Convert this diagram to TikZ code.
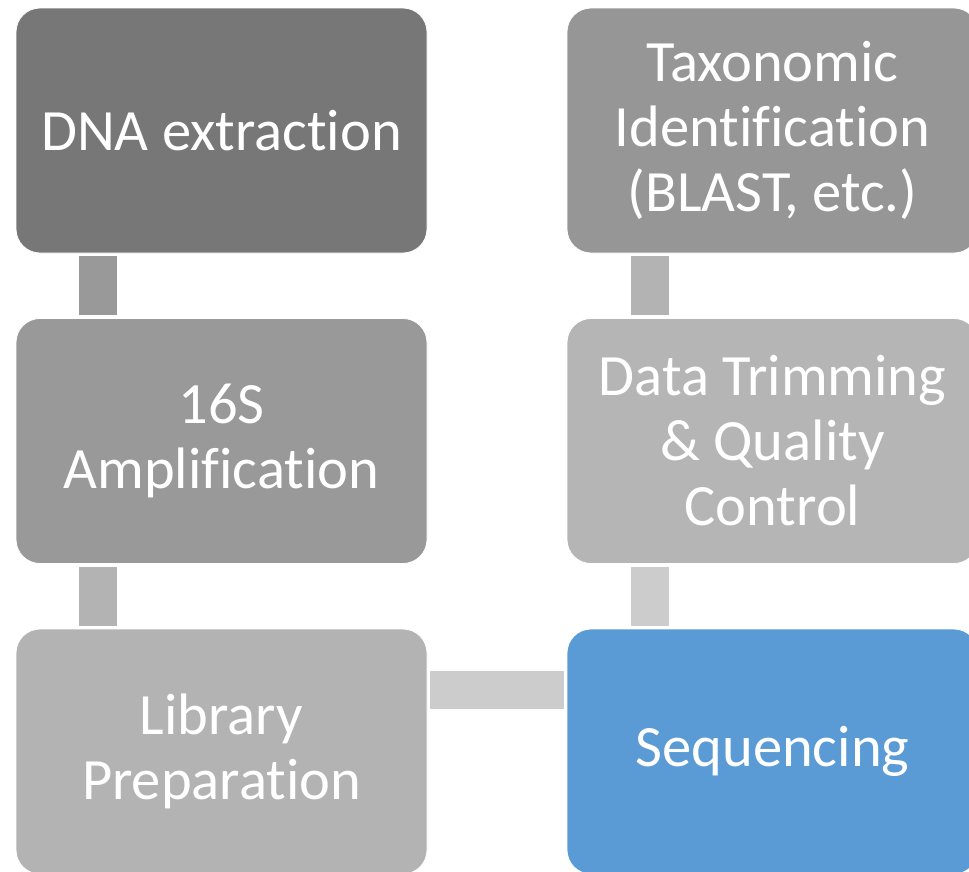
\documentclass[tikz,border=0pt]{standalone}
\usepackage{fontspec}
\setmainfont[Ligatures={NoCommon,NoContextual,NoRare},RawFeature={-liga;-clig;-dlig}]{Carlito}
\newcommand{\nolig}{\kern0pt{}}
\definecolor{cDNA}{HTML}{777777}
\definecolor{cAmp}{HTML}{999999}
\definecolor{cLib}{HTML}{B3B3B3}
\definecolor{cTax}{HTML}{969696}
\definecolor{cTrim}{HTML}{B5B5B5}
\definecolor{cSeq}{HTML}{5B9BD5}
\definecolor{kA}{HTML}{999999}
\definecolor{kB}{HTML}{B3B3B3}
\definecolor{kC}{HTML}{CCCCCC}
\begin{document}
\begin{tikzpicture}[x=1pt,y=-1pt,
  stepbox/.style={draw=white, line width=0.8pt, rounded corners=24pt,
    minimum width=411pt, minimum height=245pt, inner sep=0pt,
    text=white, align=center, font=\fontsize{58.5}{65}\selectfont},
  link/.style={line width=38pt, line cap=butt}]
\clip (0,0) rectangle (969,871);
\fill[white] (0,0) rectangle (969,871);
\node[stepbox, fill=cDNA] (dna) at (221.5,130.5) {DNA extract\nolig ion};
\node[stepbox, fill=cAmp] (amp) at (221.5,441) {16S\\Ampli\nolig f\nolig icat\nolig ion};
\node[stepbox, fill=cLib] (lib) at (221.5,751.5) {Library\\Preparat\nolig ion};
\node[stepbox, fill=cTax] (tax) at (772.5,130.5) {Taxonomic\\Ident\nolig i\nolig f\nolig icat\nolig ion\\(BLAST, etc.)};
\node[stepbox, fill=cTrim] (trim) at (772.5,441) {Data Trimming\\\& Quality\\Control};
\node[stepbox, fill=cSeq] (seq) at (772.5,751.5) {Sequencing};
\draw[link, kA] ([xshift=82pt,yshift=-3pt]dna.south west) -- ([xshift=82pt,yshift=3pt]amp.north west);
\draw[link, kB] ([xshift=82pt,yshift=-3pt]amp.south west) -- ([xshift=82pt,yshift=3pt]lib.north west);
\draw[link, kC] ([xshift=3pt,yshift=62pt]lib.east) -- ([xshift=-3pt,yshift=62pt]seq.west);
\draw[link, kC] ([xshift=83pt,yshift=3pt]seq.north west) -- ([xshift=83pt,yshift=-3pt]trim.south west);
\draw[link, kB] ([xshift=83pt,yshift=3pt]trim.north west) -- ([xshift=83pt,yshift=-3pt]tax.south west);
\end{tikzpicture}
\end{document}
